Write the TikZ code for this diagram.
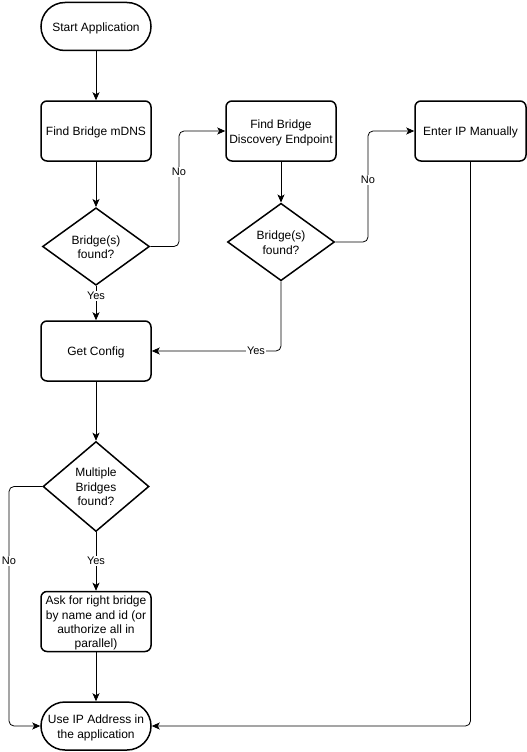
\documentclass[tikz,border=0pt]{standalone}
\usepackage{fontspec}
\setmainfont{Liberation Sans}
\usetikzlibrary{shapes.geometric,arrows.meta}
\newcommand\boxtext[1]{\raisebox{-2pt}[\height][\depth]{\begin{tabular}{@{}c@{}}#1\end{tabular}}}
\begin{document}
\begin{tikzpicture}[x=1pt,y=-1pt,
  every node/.style={font=\fontsize{12}{14.4}\selectfont},
  procbox/.style={draw,line width=1.5pt,rounded corners=6pt,minimum width=110pt,minimum height=60pt,inner sep=0pt},
  termbox/.style={draw,line width=1.5pt,rounded corners=24pt,minimum width=110pt,minimum height=48pt,inner sep=0pt},
  decbox/.style={draw,line width=1.5pt,shape=diamond,inner sep=0pt},
  conn/.style={draw,line width=0.8pt,rounded corners=5pt,-{Stealth[length=8pt,width=7pt,inset=2pt]}},
  elabel/.style={fill=white,inner sep=1pt,font=\fontsize{11}{13}\selectfont}]
\useasboundingbox (0,0) rectangle (527,752);
\node[termbox] (start) at (96,26.5) {\boxtext{Start Application}};
\node[procbox] (fbm) at (96,131) {\boxtext{Find Bridge mDNS}};
\node[decbox,minimum width=107pt,minimum height=70pt] (d1) at (96,246.5) {\boxtext{Bridge(s)\\found?}};
\node[procbox] (fbd) at (281,131) {\boxtext{Find Bridge\\Discovery Endpoint}};
\node[procbox,minimum width=111pt] (eip) at (470.5,131) {\boxtext{Enter IP Manually}};
\node[decbox,minimum width=107pt,minimum height=60pt] (d2) at (281,242) {\boxtext{Bridge(s)\\found?}};
\node[procbox] (gc) at (96,351) {\boxtext{Get Config}};
\node[decbox,minimum width=106pt,minimum height=90pt,aspect=1.18] (d3) at (96,486.5) {\boxtext{Multiple\\Bridges\\found?}};
\node[procbox] (ask) at (96,621.5) {\boxtext{Ask for right bridge\\by name and id (or\\authorize all in\\parallel)}};
\node[termbox] (use) at (96,726) {\boxtext{Use IP Address in\\the application}};

\coordinate (k1) at (179,246.5);
\coordinate (k2) at (368,242);
\coordinate (k3) at (9,486.5);

\draw[conn] (start) -- (fbm);
\draw[conn] (fbm) -- (d1);
\draw[conn] (d1.south) -- (gc.north);
\draw[conn] (d1.east) -- (k1) |- (fbd.west);
\draw[conn] (fbd.south) -- (d2.north);
\draw[conn] (d2.east) -- (k2) |- (eip.west);
\draw[conn] (d2.south) |- (gc.east);
\draw[conn] (gc.south) -- (d3.north);
\draw[conn] (d3.south) -- (ask.north);
\draw[conn] (ask.south) -- (use.north);
\draw[conn] (d3.west) -- (k3) |- (use.west);
\draw[conn] (eip.south) |- (use.east);

\node[elabel] (l1) at (96,296) {Yes};
\node[elabel] (l2) at (179,172) {No};
\node[elabel] (l3) at (256,351) {Yes};
\node[elabel] (l4) at (368,180) {No};
\node[elabel] (l5) at (96,561) {Yes};
\node[elabel] (l6) at (9,561) {No};
\end{tikzpicture}
\end{document}
